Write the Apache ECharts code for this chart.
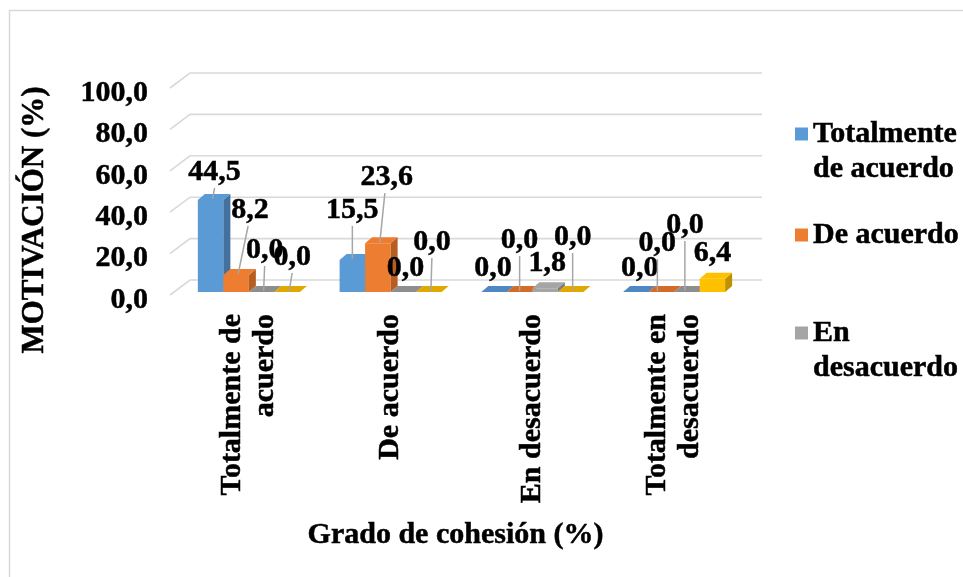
<!DOCTYPE html>
<html>
<head>
<meta charset="utf-8">
<script src="https://cdn.jsdelivr.net/npm/echarts@6/dist/echarts.min.js"></script>
<style>
  html, body { margin: 0; padding: 0; background: #fff; }
  #chart { width: 963px; height: 577px; }
</style>
</head>
<body>
<div id="chart"></div>
<script>
// Categories on the x axis (grado de cohesión)
const categories = ['Totalmente de\nacuerdo', 'De acuerdo', 'En desacuerdo', 'Totalmente en\ndesacuerdo'];

// Series names (motivación)
const seriesNames = ['Totalmente de acuerdo', 'De acuerdo', 'En desacuerdo', 'Totalmente en desacuerdo'];

// Percentages per series, one value per category
const totalmenteDeAcuerdo    = [44.5, 15.5, 0.0, 0.0];
const deAcuerdo              = [8.2, 23.6, 0.0, 0.0];
const enDesacuerdo           = [0.0, 0.0, 1.8, 0.0];
const totalmenteEnDesacuerdo = [0.0, 0.0, 0.0, 6.4];

// Value axis ticks
const yTicks = [0, 20, 40, 60, 80, 100];

const seriesValues = [totalmenteDeAcuerdo, deAcuerdo, enDesacuerdo, totalmenteEnDesacuerdo];

// Face colours for the pseudo-3D columns: front, side, top
const palette = [
  { front: '#5B9BD5', side: '#41719C', top: '#4F87C2' },
  { front: '#ED7D31', side: '#B95E22', top: '#D46C28' },
  { front: '#A5A5A5', side: '#7B7B7B', top: '#8E8E8E' },
  { front: '#FFC000', side: '#BF9000', top: '#E0A800' }
];

// Label placement relative to the top of each column: [dx, dy, leader line]
const labelPlacement = [
  [[4, -28, true], [0, -50, true], [-1, -24, false], [4, -24, false]],
  [[14, -65, true], [9, -66, true], [0, -52, true], [-4, -49, true]],
  [[3, -42, true], [2, -24, false], [2, -25, false], [-2, -67, true]],
  [[5, -35, true], [3, -50, true], [2, -55, true], [0, -26, false]]
];

const FONT = '"Times New Roman", "Liberation Serif", serif';
const FS = 30;
const HEAVY = { textBorderColor: '#000', textBorderWidth: 0.5 };
const BAR_RATIO = 0.18;   // column width as a share of the category band
const DEPTH_X = 7, DEPTH_Y = 6;

const fmt = v => v.toFixed(1).replace('.', ',');

function columnGeometry(api, s, cat, val) {
  const base = api.coord([cat, 0]);
  const top = api.coord([cat, val]);
  const band = api.size([1, 0])[0];
  const bw = band * BAR_RATIO;
  const x0 = base[0] + (s - 2) * bw;
  return { x0, bw, yBase: base[1], yTop: top[1] };
}

function barRenderer(s) {
  return function (params, api) {
    const cat = api.value(0), val = api.value(1);
    const g = columnGeometry(api, s, cat, val);
    const c = palette[s];
    const children = [];
    const h = g.yBase - g.yTop;
    if (h > 0.5) {
      children.push({
        type: 'rect',
        shape: { x: g.x0, y: g.yTop, width: g.bw, height: h },
        style: { fill: c.front }
      });
      children.push({
        type: 'polygon',
        shape: { points: [
          [g.x0 + g.bw, g.yTop], [g.x0 + g.bw + DEPTH_X, g.yTop - DEPTH_Y],
          [g.x0 + g.bw + DEPTH_X, g.yBase - DEPTH_Y], [g.x0 + g.bw, g.yBase]
        ] },
        style: { fill: c.side }
      });
    }
    children.push({
      type: 'polygon',
      shape: { points: [
        [g.x0, g.yTop], [g.x0 + DEPTH_X, g.yTop - DEPTH_Y],
        [g.x0 + g.bw + DEPTH_X, g.yTop - DEPTH_Y], [g.x0 + g.bw, g.yTop]
      ] },
      style: { fill: h > 0.5 ? c.front : c.top }
    });
    return { type: 'group', children };
  };
}

// Data labels with leader lines, drawn above all columns
const labelData = [];
seriesValues.forEach((arr, s) => arr.forEach((v, c) => labelData.push([c, v, s])));

function labelRenderer(params, api) {
  const cat = api.value(0), val = api.value(1), s = api.value(2);
  const g = columnGeometry(api, s, cat, val);
  const cx = g.x0 + g.bw / 2;
  const [dx, dy, leader] = labelPlacement[s][cat];
  const lx = cx + dx, ly = g.yTop + dy;
  const children = [];
  if (leader) {
    children.push({
      type: 'line',
      shape: { x1: lx + (dx > 6 ? -2 : 0), y1: ly + 16, x2: cx + Math.min(dx, 2), y2: g.yTop - 1 },
      style: { stroke: '#A6A6A6', lineWidth: 1.5 }
    });
  }
  children.push({
    type: 'text',
    x: lx, y: ly,
    style: Object.assign({
      text: fmt(val), align: 'center', verticalAlign: 'middle',
      fontFamily: FONT, fontWeight: 'bold', fontSize: FS, fill: '#000'
    }, { stroke: '#000', lineWidth: 0.5 })
  });
  return { type: 'group', children };
}

// Back-wall gridlines with the short floor-to-wall diagonal at the left
function gridRenderer(params, api) {
  const v = api.value(0);
  const y = api.coord([0, v])[1];
  const left = params.coordSys.x;
  return {
    type: 'polyline',
    shape: { points: [[left - 8, y + 3], [left + 12, y - 12], [762, y - 12]] },
    style: { stroke: '#D9D9D9', lineWidth: 1.6, fill: null }
  };
}

// Legend text; the leading blank line keeps the marker level with the first line
const legendLabels = {
  'Totalmente de acuerdo': '\nTotalmente\nde acuerdo',
  'De acuerdo': 'De acuerdo',
  'En desacuerdo': '\nEn\ndesacuerdo'
};

function legendItem(name, centerY, lines) {
  return {
    data: [name],
    orient: 'vertical',
    left: 795,
    top: centerY - lines * 35 / 2,
    padding: 0,
    itemWidth: 13,
    itemHeight: 13,
    icon: 'rect',
    selectedMode: false,
    formatter: n => legendLabels[n],
    textStyle: Object.assign({
      fontFamily: FONT, fontWeight: 'bold', fontSize: FS, color: '#000', lineHeight: 35
    }, HEAVY)
  };
}

const chart = echarts.init(document.getElementById('chart'), null, { renderer: 'canvas' });

chart.setOption({
  backgroundColor: '#fff',
  animation: false,
  graphic: [
    {
      type: 'rect',
      shape: { x: 9.5, y: 10.5, width: 1200, height: 1000 },
      style: { fill: null, stroke: '#D9D9D9', lineWidth: 1.5 },
      silent: true, z: -10
    },
    {
      type: 'text',
      x: 35, y: 220, rotation: Math.PI / 2,
      style: {
        text: 'MOTIVACIÓN (%)', align: 'center', verticalAlign: 'middle',
        fontFamily: FONT, fontWeight: 'bold', fontSize: 31, fill: '#000',
        stroke: '#000', lineWidth: 0.5
      }
    }
  ],
  legend: [
    legendItem(seriesNames[0], 134, 3),
    legendItem(seriesNames[1], 235, 1),
    legendItem(seriesNames[2], 333, 3)
  ],
  grid: { left: 178, right: 218, top: 85, bottom: 285, containLabel: false },
  xAxis: {
    type: 'category',
    data: categories,
    axisLine: { show: false },
    axisTick: { show: false },
    axisLabel: Object.assign({
      interval: 0, rotate: 90, margin: 22,
      fontFamily: FONT, fontWeight: 'bold', fontSize: FS, lineHeight: 33, color: '#000'
    }, HEAVY),
    name: 'Grado de cohesión (%)',
    nameLocation: 'middle',
    nameGap: 228,
    nameTextStyle: Object.assign({
      fontFamily: FONT, fontWeight: 'bold', fontSize: FS, color: '#000',
      verticalAlign: 'top', padding: [0, 12, 0, 0]
    }, HEAVY)
  },
  yAxis: {
    type: 'value',
    min: yTicks[0], max: yTicks[yTicks.length - 1], interval: yTicks[1] - yTicks[0],
    axisLine: { show: false },
    axisTick: { show: false },
    splitLine: { show: false },
    axisLabel: Object.assign({
      margin: 30, formatter: v => fmt(v), verticalAlign: 'top', lineHeight: 16,
      fontFamily: FONT, fontWeight: 'bold', fontSize: FS, color: '#000'
    }, HEAVY)
  },
  series: [
    {
      type: 'custom', name: 'gridlines', silent: true, z: 1,
      renderItem: gridRenderer,
      data: yTicks.map(v => [v]),
      encode: { y: 0 }
    },
    ...seriesNames.map((name, s) => ({
      type: 'custom',
      name: name,
      z: 2,
      itemStyle: { color: palette[s].front },
      renderItem: barRenderer(s),
      encode: { x: 0, y: 1 },
      data: seriesValues[s].map((v, c) => [c, v])
    })),
    {
      type: 'custom', name: 'etiquetas', silent: true, z: 5,
      renderItem: labelRenderer,
      encode: { x: 0, y: 1 },
      data: labelData
    }
  ]
});
</script>
</body>
</html>
